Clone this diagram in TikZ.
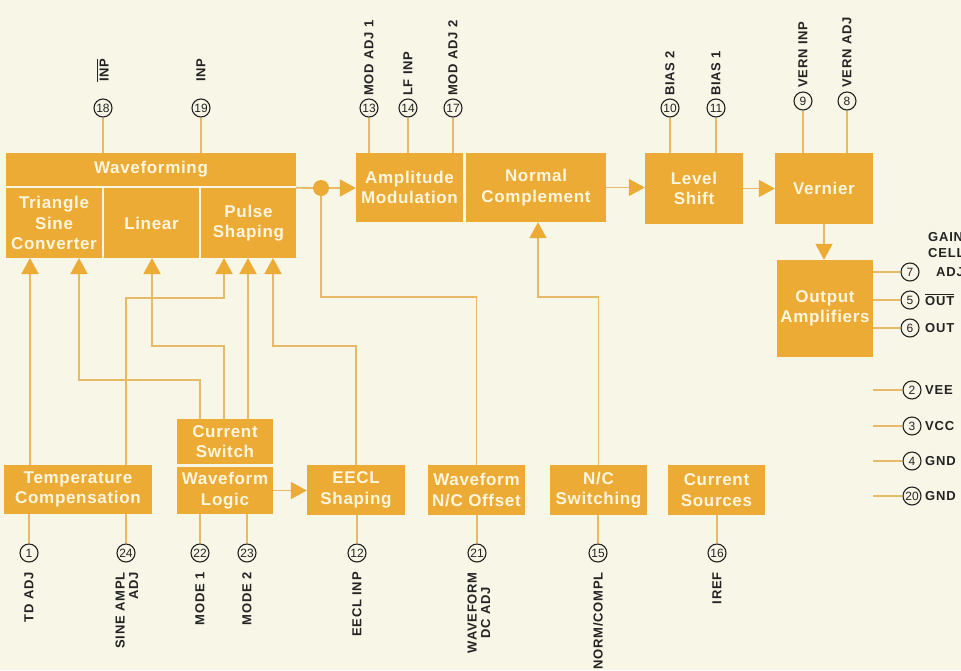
\documentclass[tikz,border=0pt]{standalone}
\usepackage{fontspec}
\setmainfont{Liberation Sans}
\newfontfamily\boxfont[LetterSpace=4]{Liberation Sans}
\newfontfamily\labfont[LetterSpace=6]{Liberation Sans}
\usetikzlibrary{arrows.meta}
\definecolor{bg}{RGB}{248,246,230}
\definecolor{boxc}{RGB}{236,171,52}
\definecolor{linec}{RGB}{231,186,104}
\definecolor{txtc}{RGB}{255,246,224}
\definecolor{ink}{RGB}{35,35,35}
\newcommand\ovl[1]{\vbox{\hrule height 0.9pt\kern1.3pt\hbox{#1}}}
\tikzset{
 blk/.style={fill=boxc, text=txtc, font=\boxfont\bfseries\fontsize{17}{20.5}\selectfont, align=center, inner sep=0pt},
 pin/.style={circle, draw=ink, line width=1.1pt, fill=bg, minimum size=18pt, inner sep=0pt, font=\fontsize{12}{12}\selectfont, text=ink},
 lab/.style={font=\labfont\bfseries\fontsize{13}{13.5}\selectfont, text=ink, inner sep=0pt},
 wire/.style={draw=linec, line width=1.8pt},
 arr/.style={wire, -{Triangle[length=16pt,width=17pt,color=boxc]}},
}
\begin{document}
\begin{tikzpicture}[x=1pt,y=-1pt]
\fill[bg] (0,0) rectangle (961,670);
\useasboundingbox (0,0) rectangle (961,670);

% blocks
\node[blk, minimum width=290pt, minimum height=33pt] (wfh) at (151,169.5) {Waveforming};
\node[blk, minimum width=96pt, minimum height=70pt] (tsc) at (54,223) {Triangle\\Sine\\Converter};
\node[blk, minimum width=95pt, minimum height=70pt] (lin) at (151.5,223) {Linear};
\node[blk, minimum width=95pt, minimum height=70pt] (pls) at (248.5,223) {Pulse\\Shaping};
\node[blk, minimum width=107pt, minimum height=69pt] (am) at (409.5,187.5) {Amplitude\\Modulation};
\node[blk, minimum width=140pt, minimum height=69pt] (nc) at (536,187.5) {Normal\\Complement};
\node[blk, minimum width=98pt, minimum height=71pt] (ls) at (694,188.5) {Level\\Shift};
\node[blk, minimum width=98pt, minimum height=71pt] (vern) at (824,188.5) {Vernier};
\node[blk, minimum width=96pt, minimum height=97pt] (oa) at (825,308.5) {Output\\Amplifiers};
\node[blk, minimum width=148pt, minimum height=49pt] (tc) at (78,489.5) {Temperature\\Compensation};
\node[blk, minimum width=96pt, minimum height=45pt] (cs) at (225,441.5) {Current\\Switch};
\node[blk, minimum width=96pt, minimum height=47pt] (wl) at (225,490.5) {Waveform\\Logic};
\node[blk, minimum width=98pt, minimum height=50pt] (eecl) at (356,490) {EECL\\Shaping};
\node[blk, minimum width=97pt, minimum height=50pt] (wnc) at (476.5,490) {Waveform\\N/C Offset};
\node[blk, minimum width=97pt, minimum height=50pt] (ncs) at (598.5,490) {N/C\\Switching};
\node[blk, minimum width=97pt, minimum height=50pt] (csrc) at (716.5,490) {Current\\Sources};

% pins
\node[pin] (p18) at (103,108) {18};
\node[pin] (p19) at (201,108) {19};
\node[pin] (p13) at (369,108) {13};
\node[pin] (p14) at (408,108) {14};
\node[pin] (p17) at (453,108) {17};
\node[pin] (p10) at (670,108) {10};
\node[pin] (p11) at (716,108) {11};
\node[pin] (p9) at (803,101) {9};
\node[pin] (p8) at (847,101) {8};
\node[pin] (p7) at (910,272) {7};
\node[pin] (p5) at (910,300) {5};
\node[pin] (p6) at (910,328) {6};
\node[pin] (p2) at (912,390) {2};
\node[pin] (p3) at (912,426) {3};
\node[pin] (p4) at (912,461) {4};
\node[pin] (p20) at (912,496) {20};
\node[pin] (p1) at (29,553) {1};
\node[pin] (p24) at (126,553) {24};
\node[pin] (p22) at (200,553) {22};
\node[pin] (p23) at (247,553) {23};
\node[pin] (p12) at (357,553) {12};
\node[pin] (p21) at (477,553) {21};
\node[pin] (p15) at (598,553) {15};
\node[pin] (p16) at (717,553) {16};

% top labels
\node[lab, rotate=90, anchor=west] (l18) at (103,82) {\ovl{INP}};
\node[lab, rotate=90, anchor=west] (l19) at (201,82) {INP};
\node[lab, rotate=90, anchor=west] (l13) at (369,96) {MOD ADJ 1};
\node[lab, rotate=90, anchor=west] (l14) at (408,96) {LF INP};
\node[lab, rotate=90, anchor=west] (l17) at (453,96) {MOD ADJ 2};
\node[lab, rotate=90, anchor=west] (l10) at (670,96) {BIAS 2};
\node[lab, rotate=90, anchor=west] (l11) at (716,96) {BIAS 1};
\node[lab, rotate=90, anchor=west] (l9) at (803,88) {VERN INP};
\node[lab, rotate=90, anchor=west] (l8) at (847,88) {VERN ADJ};

% right labels
\node[lab, anchor=west] (lg1) at (928,237) {GAIN};
\node[lab, anchor=west] (lg2) at (928,253) {CELL};
\node[lab, anchor=west] (l7) at (936,272) {ADJ};
\node[lab, anchor=west] (l5) at (925,300) {\ovl{OUT}};
\node[lab, anchor=west] (l6) at (925,328) {OUT};
\node[lab, anchor=west] (l2) at (925,390) {VEE};
\node[lab, anchor=west] (l3) at (925,426) {VCC};
\node[lab, anchor=west] (l4) at (925,461) {GND};
\node[lab, anchor=west] (l20) at (925,496) {GND};

% bottom labels
\node[lab, rotate=90, anchor=east] (l1) at (29,572) {TD ADJ};
\node[lab, rotate=90, anchor=east, align=right] (l24) at (127,572) {SINE AMPL\\ADJ};
\node[lab, rotate=90, anchor=east] (l22) at (200,572) {MODE 1};
\node[lab, rotate=90, anchor=east] (l23) at (247,572) {MODE 2};
\node[lab, rotate=90, anchor=east] (l12) at (357,572) {EECL INP};
\node[lab, rotate=90, anchor=east, align=center] (l21) at (479,572) {WAVEFORM\\DC ADJ};
\node[lab, rotate=90, anchor=east] (l15) at (598,572) {NORM/COMPL};
\node[lab, rotate=90, anchor=east] (l16) at (717,572) {IREF};

% pin wires
\draw[wire] (p18) -- (p18 |- wfh.north);
\draw[wire] (p19) -- (p19 |- wfh.north);
\draw[wire] (p13) -- (p13 |- am.north);
\draw[wire] (p14) -- (p14 |- am.north);
\draw[wire] (p17) -- (p17 |- am.north);
\draw[wire] (p10) -- (p10 |- ls.north);
\draw[wire] (p11) -- (p11 |- ls.north);
\draw[wire] (p9) -- (p9 |- vern.north);
\draw[wire] (p8) -- (p8 |- vern.north);
\draw[wire] (p7) -- (p7 -| oa.east);
\draw[wire] (p5) -- (p5 -| oa.east);
\draw[wire] (p6) -- (p6 -| oa.east);
\coordinate (q2) at (873,390);
\coordinate (q3) at (873,426);
\coordinate (q4) at (873,461);
\coordinate (q20) at (873,496);
\draw[wire] (q2) -- (p2);
\draw[wire] (q3) -- (p3);
\draw[wire] (q4) -- (p4);
\draw[wire] (q20) -- (p20);
\draw[wire] (p1) -- (p1 |- tc.south);
\draw[wire] (p24) -- (p24 |- tc.south);
\draw[wire] (p22) -- (p22 |- wl.south);
\draw[wire] (p23) -- (p23 |- wl.south);
\draw[wire] (p12) -- (p12 |- eecl.south);
\draw[wire] (p21) -- (p21 |- wnc.south);
\draw[wire] (p15) -- (p15 |- ncs.south);
\draw[wire] (p16) -- (p16 |- csrc.south);

% feedback / control connectors
\coordinate (t1) at (30,258);
\coordinate (t2) at (79,258);
\coordinate (t3) at (152,258);
\coordinate (t4) at (224,258);
\coordinate (t5) at (248,258);
\coordinate (t6) at (273,258);
\coordinate (e2) at (79,380);
\coordinate (e3) at (152,346);
\coordinate (e4) at (224,298);
\coordinate (e6) at (273,346);
\coordinate (e7) at (321,297);
\coordinate (e8) at (538,297);

\draw[arr] (t1 |- tc.north) -- (t1);
\draw[arr] (p22 |- cs.north) |- (e2) -- (t2);
\draw[arr] (t4 |- cs.north) |- (e3) -- (t3);
\draw[arr] (p24 |- tc.north) |- (e4) -- (t4);
\draw[arr] (t5 |- cs.north) -- (t5);
\draw[arr] (eecl.north) |- (e6) -- (t6);

\node[circle, fill=boxc, minimum size=16pt, inner sep=0pt] (dot) at (321,188) {};
\draw[wire] (pls.north east) -- (dot);
\draw[arr] (dot) -- (dot -| am.west);
\draw[wire] (wnc.north) |- (e7) -- (dot);
\draw[arr] (ncs.north) |- (e8) -- (e8 |- nc.south);
\draw[arr] (nc.east) -- (nc.east -| ls.west);
\draw[arr] (ls.east) -- (ls.east -| vern.west);
\draw[arr] (vern.south) -- (vern.south |- oa.north);
\draw[arr] (wl.east) -- (wl.east -| eecl.west);
\end{tikzpicture}
\end{document}
